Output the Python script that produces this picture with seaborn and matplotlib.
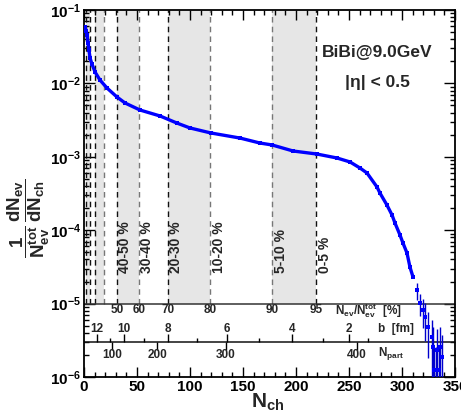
import numpy as np
import pandas as pd
import matplotlib
matplotlib.use("Agg")
import matplotlib.pyplot as plt
import seaborn as sns
from matplotlib.ticker import MultipleLocator, LogLocator, NullFormatter

# ---------------- data ----------------
nch_main = [0.9, 1.9, 2.8, 3.8, 4.7, 5.7, 7.5, 10.4, 15.1, 21.7, 31.1, 38.7, 52.8,
            71.7, 87.7, 100.0, 119.8, 147.2, 166.0, 177.4, 197.2, 219.8, 238.7,
            251.0, 260.4, 267.0, 276.4, 279.2, 285.8, 290.6, 293.4, 298.1, 300.9,
            304.7, 307.5, 310.4]
dn_main = [5.86e-2, 5.2e-2, 4.56e-2, 3.55e-2, 2.85e-2, 2.22e-2, 1.84e-2, 1.43e-2,
           1.11e-2, 8.65e-3, 6.53e-3, 5.41e-3, 4.34e-3, 3.60e-3, 2.88e-3, 2.47e-3,
           2.11e-3, 1.80e-3, 1.54e-3, 1.45e-3, 1.20e-3, 1.09e-3, 9.63e-4, 8.5e-4,
           7.03e-4, 6.01e-4, 3.88e-4, 3.21e-4, 2.20e-4, 1.61e-4, 1.25e-4, 8.6e-5,
           6.7e-5, 4.89e-5, 3.15e-5, 2.30e-5]

nch_tail = [314.2, 317.0, 319.8, 321.7, 324.5, 328.3, 329.2, 333.0, 335.8, 337.7,
            329.9, 332.0, 335.0]
dn_tail = [1.53e-5, 1.02e-5, 8.2e-6, 6.6e-6, 4.8e-6, 3.5e-6, 2.56e-6, 2.33e-6,
           2.56e-6, 1.87e-6, 1.24e-6, 1.24e-6, 1.24e-6]
err_tail = [4e-6, 3.5e-6, 3.5e-6, 3.5e-6, 3e-6, 2.5e-6, 2.2e-6, 2.2e-6, 2.2e-6,
            1.9e-6, 1.3e-6, 1.3e-6, 1.3e-6]

pct_vals = [10, 20, 30, 40, 50, 60, 70, 80, 90, 95]
pct_nch = [1.9, 5.7, 10.4, 18.9, 31.1, 51.9, 79.2, 118.9, 177.4, 218.9]
pct_labeled = [50, 60, 70, 80, 90, 95]
band_pairs = [(10, 20), (30, 40), (50, 60), (70, 80), (90, 95)]
band_labels = ["40-50 %", "30-40 %", "20-30 %", "10-20 %", "5-10 %", "0-5 %"]

b_vals = [12, 11, 10, 9, 8, 7, 6, 5, 4, 3, 2, 1]
b_nch = [12.3, 24.5, 37.7, 56.6, 79.2, 106.6, 134.9, 165.0, 196.2, 225.5, 250.2, 268.2]
b_labeled = [12, 10, 8, 6, 4, 2]

npart_vals = [100, 200, 300, 400]
npart_nch = [26.4, 68.9, 134.0, 257.5]

# ---------------- style ----------------
sns.set_style("ticks")
plt.rcParams["font.family"] = ["Liberation Sans", "DejaVu Sans"]
plt.rcParams["font.weight"] = "bold"
plt.rcParams["mathtext.fontset"] = "custom"
plt.rcParams["mathtext.rm"] = "Liberation Sans:bold"
plt.rcParams["mathtext.it"] = "Liberation Sans:bold"
plt.rcParams["mathtext.bf"] = "Liberation Sans:bold"
plt.rcParams["mathtext.default"] = "rm"

W, H = 461, 419
fig = plt.figure(figsize=(W / 100, H / 100), dpi=100)
ax = fig.add_axes([84 / W, 1 - 377 / H, (455 - 84) / W, (377 - 10) / H])
ax.set_yscale("log")
ax.set_xlim(0, 350)
ax.set_ylim(1e-6, 1e-1)

pmap = dict(zip(pct_vals, pct_nch))

# gray bands + dashed lines
for lo, hi in band_pairs:
    ax.fill_betweenx([1e-5, 1e-1], pmap[lo], pmap[hi], color="#e6e6e6", lw=0, zorder=0)
for p, x in zip(pct_vals, pct_nch):
    dark = p in (10, 20, 30, 50, 70, 95)
    ax.vlines(x, 1e-5, 1e-1, colors="#111111" if dark else "#777777",
              linestyles=(0, (4, 3)), lw=1.0, zorder=1)

# band labels
for p, lab in zip(pct_labeled, band_labels):
    ax.text(pmap[p] + 8, 2.6e-5, lab, rotation=90, ha="center", va="bottom",
            fontsize=10, fontweight="bold", zorder=3)

# separator lines for auxiliary axes
ax.axhline(1e-5, color="#333333", lw=1.1, zorder=2)
ax.axhline(3.0e-6, color="#111111", lw=1.1, zorder=2)

# percent axis labels
for p in pct_labeled:
    ax.text(pmap[p], 8.2e-6, str(p), ha="center", va="center", fontsize=8.5,
            fontweight="bold")
ax.text(237, 8.0e-6, r"$N_{ev}/N_{ev}^{tot}$  [%]", ha="left", va="center",
        fontsize=8.5)

# b axis
for b, x in zip(b_vals, b_nch):
    major = b in b_labeled
    ax.vlines(x, 3.0e-6, 3.9e-6 if major else 3.45e-6, colors="k", lw=1.0)
    if major:
        ax.text(x, 4.45e-6, str(b), ha="center", va="center", fontsize=8.5,
                fontweight="bold")
ax.text(277, 4.45e-6, "b  [fm]", ha="left", va="center", fontsize=8.5,
        fontweight="bold")

# Npart axis
for n, x in zip(npart_vals, npart_nch):
    ax.vlines(x, 2.35e-6, 3.0e-6, colors="k", lw=1.0)
    ax.text(x, 2.0e-6, str(n), ha="center", va="center", fontsize=8.5,
            fontweight="bold")
ax.text(277, 2.1e-6, r"$N_{part}$", ha="left", va="center", fontsize=8.5)

# main curve
df_main = pd.DataFrame({"nch": nch_main, "dn": dn_main})
sns.lineplot(data=df_main, x="nch", y="dn", ax=ax, color="#0000ff", lw=2.4,
             marker="s", markersize=2.5, markeredgewidth=0, zorder=5)

# tail with error bars
df_tail = pd.DataFrame({"nch": nch_tail, "dn": dn_tail, "err": err_tail})
lo_err = np.minimum(df_tail["err"].values, 0.97 * df_tail["dn"].values)
ax.errorbar(df_tail["nch"], df_tail["dn"], yerr=[lo_err, df_tail["err"].values],
            fmt="none", ecolor="#0000cc", elinewidth=1.0, zorder=5)
sns.scatterplot(data=df_tail, x="nch", y="dn", ax=ax, color="#0000ff", s=8,
                marker="s", edgecolor="none", zorder=6)

# texts
ax.text(0.79, 1 - (53 - 10) / 367, "BiBi@9.0GeV", transform=ax.transAxes,
        ha="center", va="center", fontsize=12.5, fontweight="bold")
ax.text(0.79, 1 - (82 - 10) / 367, "|η| < 0.5", transform=ax.transAxes,
        ha="center", va="center", fontsize=12.5, fontweight="bold")

# axes labels
ax.set_xlabel("")
ax.set_ylabel("")
fig.text(268 / W, 1 - 402 / H, r"$N_{ch}$", ha="center", va="center", fontsize=15)
fig.text(29 / W, 1 - 218 / H,
         r"$\dfrac{1}{N_{ev}^{tot}}\,\dfrac{dN_{ev}}{dN_{ch}}$",
         rotation=90, ha="center", va="center", fontsize=13.5)

# ticks
ax.xaxis.set_major_locator(MultipleLocator(50))
ax.xaxis.set_minor_locator(MultipleLocator(10))
ax.yaxis.set_major_locator(LogLocator(base=10, numticks=10))
ax.yaxis.set_minor_locator(LogLocator(base=10, subs=np.arange(2, 10), numticks=20))
ax.yaxis.set_minor_formatter(NullFormatter())
ax.tick_params(which="both", direction="in", top=True, right=True, width=1.0,
               colors="k")
ax.tick_params(which="major", length=7, labelsize=11, pad=2)
ax.tick_params(which="minor", length=3.5)
ax.tick_params(axis="y", which="major", length=8)
for lab in ax.get_xticklabels() + ax.get_yticklabels():
    lab.set_fontweight("bold")
for s in ax.spines.values():
    s.set_linewidth(1.3)
    s.set_color("k")

fig.savefig("out.png", dpi=100)
